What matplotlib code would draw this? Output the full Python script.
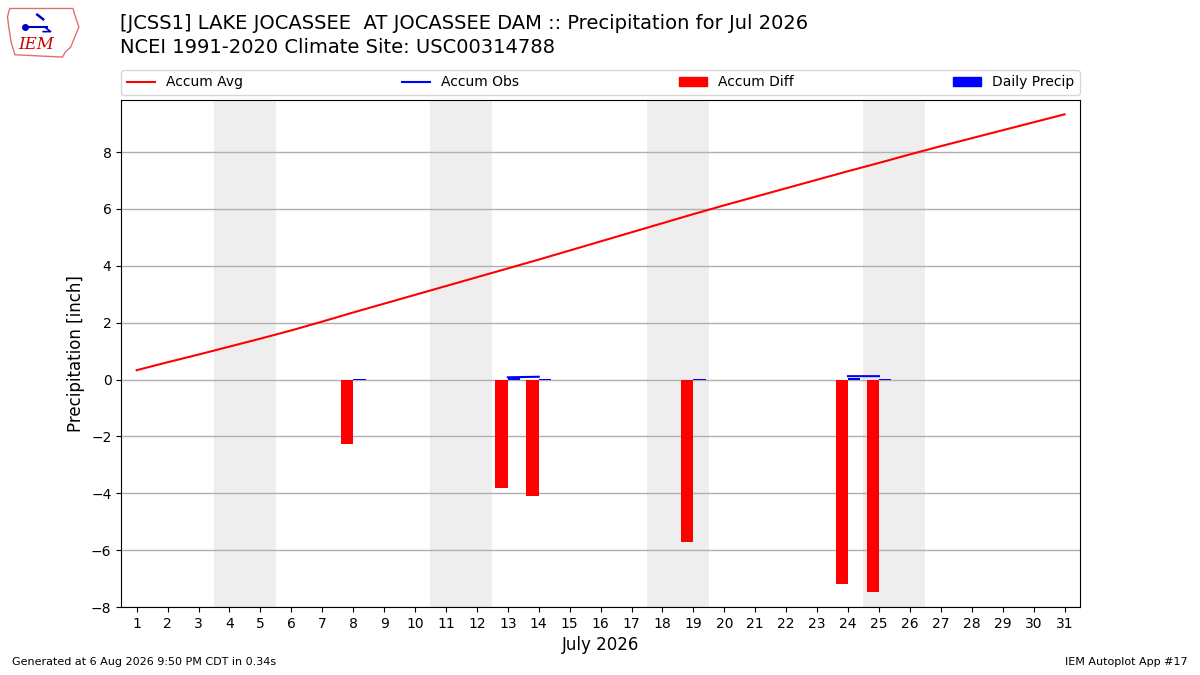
import numpy as np
import matplotlib
matplotlib.use("Agg")
import matplotlib.pyplot as plt
from matplotlib.patches import Patch, Polygon
from matplotlib.lines import Line2D

days = np.arange(1, 32)
accum_avg = [0.33, 0.61, 0.88, 1.16, 1.44, 1.73, 2.04, 2.36, 2.67, 2.98,
             3.29, 3.60, 3.91, 4.22, 4.54, 4.86, 5.18, 5.50, 5.82, 6.13,
             6.43, 6.73, 7.03, 7.33, 7.62, 7.92, 8.21, 8.49, 8.77, 9.05, 9.33]
obs_days = [8, 13, 14, 19, 24, 25]
daily_precip = [0.02, 0.08, 0.03, 0.02, 0.04, 0.03]
accum_diff = [-2.25, -3.82, -4.10, -5.72, -7.19, -7.47]
# accumulated obs, NaN where no report
accum_obs = np.full(31, np.nan)
accum_obs[[12, 13]] = [0.08, 0.10]
accum_obs[[23, 24]] = [0.12, 0.12]
weekends = [4, 11, 18, 25]  # Saturdays

fig = plt.figure(figsize=(12, 6.75), dpi=100)
ax = fig.add_axes([0.101, 0.1007, 0.799, 0.751])

for sat in weekends:
    ax.axvspan(sat - 0.5, sat + 1.5, color="#eeeeee", zorder=0, lw=0)

ax.plot(days, accum_avg, color="r", lw=1.5, zorder=3)
ax.plot(days, accum_obs, color="b", lw=1.5, zorder=3)
ax.bar(np.array(obs_days) - 0.4, accum_diff, width=0.4, align="edge", color="r", zorder=2)
ax.bar(obs_days, daily_precip, width=0.4, align="edge", color="b", zorder=2)

ax.set_xlim(0.5, 31.5)
ax.set_ylim(-7.97, 9.83)
ax.set_xticks(days)
ax.set_yticks([-8, -6, -4, -2, 0, 2, 4, 6, 8])
ax.grid(axis="y", color="#b0b0b0", lw=1)
ax.set_axisbelow(True)
ax.tick_params(labelsize=10)
ax.set_xlabel("July 2026", fontsize=12)
ax.set_ylabel("Precipitation [inch]", fontsize=12)

handles = [
    Line2D([], [], color="r", lw=1.5),
    Line2D([], [], color="b", lw=1.5),
    Patch(color="r"),
    Patch(color="b"),
]
labels = ["Accum Avg", "Accum Obs", "Accum Diff", "Daily Precip"]
ax.legend(handles, labels, ncol=4, mode="expand", loc="lower left",
          bbox_to_anchor=(0, 1.01, 1, 0.052), borderaxespad=0, fontsize=10)

fig.text(0.1, 0.965, "[JCSS1] LAKE JOCASSEE  AT JOCASSEE DAM :: Precipitation for Jul 2026",
         fontsize=14, va="center")
fig.text(0.1, 0.93, "NCEI 1991-2020 Climate Site: USC00314788", fontsize=14, va="center")

fig.text(0.01, 0.015, "Generated at 6 Aug 2026 9:50 PM CDT in 0.34s", fontsize=8)
fig.text(0.99, 0.015, "IEM Autoplot App #17", fontsize=8, ha="right")

# small IEM logo
lax = fig.add_axes([0.005, 0.912, 0.062, 0.08])
lax.axis("off")
lax.set_xlim(0, 10)
lax.set_ylim(0, 7)
outline = [(0.5, 6.6), (9.0, 6.6), (9.3, 5.6), (9.8, 4.2), (9.2, 2.8), (8.7, 1.6),
           (8.0, 1.0), (7.6, 0.3), (1.2, 0.6), (0.7, 2.2), (0.4, 4.0), (0.2, 5.5)]
lax.add_patch(Polygon(outline, closed=True, fill=False, edgecolor="#e07070", lw=1))
lax.plot([2.5, 5.5], [4.2, 4.2], color="#0000cc", lw=1.5)
lax.plot([2.5], [4.2], "o", color="#0000cc", ms=4)
lax.plot([5.2, 6.0, 5.0], [4.2, 3.6, 3.6], color="#0000cc", lw=1.2)
lax.plot([4.2, 5.0], [5.8, 5.2], color="#0000cc", lw=1.8)
lax.text(1.6, 1.3, "IEM", color="#cc0000", fontsize=12, family="DejaVu Serif", style="italic")

fig.savefig("out.png", dpi=100)
